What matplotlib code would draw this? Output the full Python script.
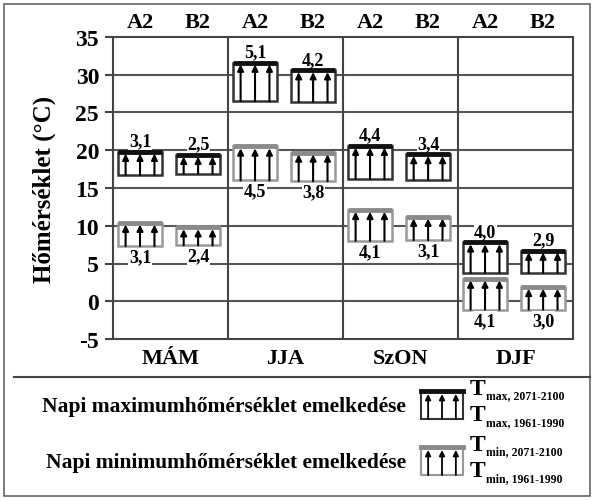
import matplotlib
matplotlib.use("Agg")
import matplotlib.pyplot as plt

plt.rcParams["font.family"] = ["Liberation Serif", "DejaVu Serif"]
plt.rcParams["font.weight"] = "bold"

seasons = ["MÁM", "JJA", "SzON", "DJF"]
scenarios = ["A2", "B2"]

# baseline (1961-1990) and increase (2071-2100 minus baseline), order: A2, B2 per season
tmax_base = [[16.7, 16.9], [26.5, 26.4], [16.2, 16.1], [3.8, 3.8]]
tmax_inc = [[3.1, 2.5], [5.1, 4.2], [4.4, 3.4], [4.0, 2.9]]
tmin_base = [[7.3, 7.4], [16.0, 15.9], [8.0, 8.1], [-1.1, -1.1]]
tmin_inc = [[3.1, 2.4], [4.5, 3.8], [4.1, 3.1], [4.1, 3.0]]

yticks = [-5, 0, 5, 10, 15, 20, 25, 30, 35]

W, H = 595, 502
fig = plt.figure(figsize=(W / 100, H / 100), dpi=100)
ax = fig.add_axes([113 / W, 1 - 340 / H, 460 / W, 302 / H])

ax.set_xlim(0, 4)
ax.set_ylim(-5, 35)
ax.set_yticks(yticks)
ax.set_yticklabels([str(v) for v in yticks], fontsize=17, fontweight="bold")
ax.set_xticks([])
ax.tick_params(axis="y", length=6, width=1.5, color="#444", pad=4)
for s in ax.spines.values():
    s.set_color("#444")
    s.set_linewidth(1.5)
for v in yticks[1:-1]:
    ax.axhline(v, color="#555", lw=1.5, zorder=1)
for i in range(1, 4):
    ax.axvline(i, color="#444", lw=1.5, zorder=1)

offsets = [0.235, 0.74]
width = 0.38


def draw_box(xc, base, inc, edge, topcol, above):
    top = base + inc
    ax.bar(xc, inc, width=width, bottom=base, facecolor="white",
           edgecolor=edge, linewidth=1.8, zorder=3)
    ax.hlines(top, xc - width / 2, xc + width / 2, color=topcol, lw=3.5, zorder=4)
    for f in [0.17, 0.5, 0.83]:
        xa = xc - width / 2 + f * width
        ax.annotate("", xy=(xa, top - 0.25), xytext=(xa, base),
                    arrowprops=dict(arrowstyle="-|>", color="black", lw=1.5,
                                    mutation_scale=9, shrinkA=0, shrinkB=0),
                    zorder=5)
    txt = f"{inc:.1f}".replace(".", ",")
    if above:
        ax.text(xc, top + 0.3, txt, ha="center", va="bottom", fontsize=13,
                fontweight="bold", zorder=6,
                bbox=dict(facecolor="white", edgecolor="none", pad=0.3))
    else:
        ax.text(xc, base - 0.3, txt, ha="center", va="top", fontsize=13,
                fontweight="bold", zorder=6,
                bbox=dict(facecolor="white", edgecolor="none", pad=0.3))


for i in range(4):
    for j in range(2):
        xc = i + offsets[j]
        draw_box(xc, tmax_base[i][j], tmax_inc[i][j], "#333333", "#111111", True)
        draw_box(xc, tmin_base[i][j], tmin_inc[i][j], "#999999", "#8a8a8a", False)
        ax.text(xc, 35.7, scenarios[j], ha="center", va="bottom", fontsize=16,
                fontweight="bold")
    ax.text(i + 0.5, -6.2, seasons[i], ha="center", va="top", fontsize=16,
            fontweight="bold")

ax.set_ylabel("Hőmérséklet (°C)", fontsize=18, fontweight="bold", labelpad=14)

# overlay for frame and legend (pixel coordinates, y downwards)
lg = fig.add_axes([0, 0, 1, 1])
lg.set_xlim(0, W)
lg.set_ylim(H, 0)
lg.axis("off")
lg.add_patch(plt.Rectangle((4, 5), 586, 492, fill=False, edgecolor="#666", lw=1.2))
lg.plot([14, 590], [378, 378], color="#444", lw=1.5)


def legend_row(y, kind, text, edge, topcol):
    lg.text(406, y, text, ha="right", va="center", fontsize=15.5, fontweight="bold")
    x0, x1, y0, y1 = 421, 463, y - 15, y + 13
    lg.add_patch(plt.Rectangle((x0, y0), x1 - x0, y1 - y0, facecolor="white",
                               edgecolor=edge, lw=1.5))
    lg.plot([x0, x1], [y0, y0], color=topcol, lw=3.5)
    for f in [0.17, 0.5, 0.83]:
        xa = x0 + f * (x1 - x0)
        lg.annotate("", xy=(xa, y0 + 3), xytext=(xa, y1),
                    arrowprops=dict(arrowstyle="-|>", color="black", lw=1.3,
                                    mutation_scale=8, shrinkA=0, shrinkB=0))
    lg.text(470, y - 17, "T", ha="left", va="center", fontsize=17, fontweight="bold")
    lg.text(486, y - 11, f"{kind}, 2071-2100", ha="left", va="center", fontsize=8.5,
            fontweight="bold")
    lg.text(470, y + 9, "T", ha="left", va="center", fontsize=17, fontweight="bold")
    lg.text(486, y + 16, f"{kind}, 1961-1990", ha="left", va="center", fontsize=8.5,
            fontweight="bold")


legend_row(407, "max", "Napi maximumhőmérséklet emelkedése", "#333333", "#111111")
legend_row(463, "min", "Napi minimumhőmérséklet emelkedése", "#999999", "#8a8a8a")

fig.savefig("out.png", dpi=100)
